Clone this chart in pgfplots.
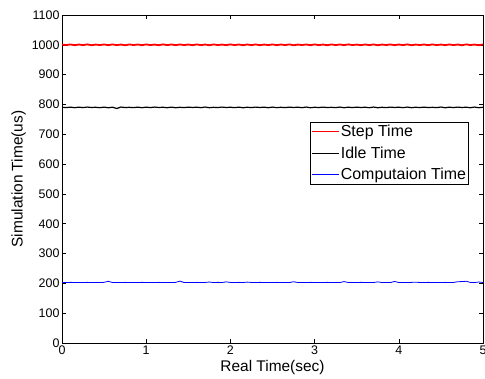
\documentclass[border=0pt]{standalone}
\usepackage{pgfplots}
\pgfplotsset{compat=1.18}
\usepackage{pgfplotstable}
\usepackage{fontspec}
\setmainfont{Liberation Sans}
\pgfplotstableread{
x s i c
0.00 1000.9 790.6 203.0
0.05 999.1 789.4 202.6
0.10 1001.2 791.0 203.4
0.15 998.8 789.2 202.8
0.20 1001.0 790.8 203.1
0.25 999.0 789.6 202.7
0.30 1001.4 791.2 203.3
0.35 998.7 789.9 202.9
0.40 1000.8 790.5 203.2
0.45 999.3 789.2 202.6
0.50 1001.1 791.1 203.5
0.55 998.9 789.0 207.0
0.60 1001.3 790.7 202.8
0.65 999.0 786.5 203.2
0.70 1000.9 791.3 202.7
0.75 998.6 789.7 203.3
0.80 1001.2 790.4 202.9
0.85 999.2 789.3 203.1
0.90 1001.0 791.0 202.6
0.95 998.8 789.1 203.4
1.00 1001.3 790.9 202.8
1.05 999.1 789.5 203.2
1.10 1000.8 791.2 202.7
1.15 998.7 789.8 203.3
1.20 1001.4 790.6 202.9
1.25 999.0 789.1 203.0
1.30 1001.1 791.1 202.6
1.35 998.9 789.0 203.4
1.40 1001.2 790.5 207.5
1.45 999.2 789.4 202.8
1.50 1000.9 791.0 203.2
1.55 998.8 789.9 202.7
1.60 1001.3 790.8 203.3
1.65 999.0 789.2 202.9
1.70 1001.0 791.3 203.1
1.75 998.6 789.1 204.5
1.80 1001.2 790.4 202.6
1.85 999.3 789.6 203.4
1.90 1000.8 791.2 202.8
1.95 998.9 789.7 205.0
2.00 1001.4 790.7 203.2
2.05 999.1 789.3 202.7
2.10 1001.0 791.0 203.3
2.15 998.7 789.0 202.9
2.20 1001.1 790.6 204.2
2.25 999.0 789.5 203.0
2.30 1001.3 791.1 202.6
2.35 998.8 789.8 203.4
2.40 1000.9 790.9 202.8
2.45 999.2 789.1 203.2
2.50 1001.2 791.2 202.7
2.55 998.9 789.2 203.3
2.60 1001.0 790.5 202.9
2.65 999.1 789.4 203.1
2.70 1001.4 791.0 202.6
2.75 998.6 789.9 205.5
2.80 1000.8 790.8 202.8
2.85 999.3 789.2 203.2
2.90 1001.1 791.3 202.7
2.95 998.8 789.0 203.3
3.00 1001.3 790.6 202.9
3.05 999.0 789.6 203.0
3.10 1000.9 791.1 202.6
3.15 998.7 789.7 203.4
3.20 1001.2 790.4 202.8
3.25 999.2 789.3 203.2
3.30 1001.0 791.2 202.7
3.35 998.9 789.1 206.0
3.40 1001.4 790.9 202.9
3.45 999.1 789.5 203.1
3.50 1000.8 791.0 202.6
3.55 998.8 789.8 203.4
3.60 1001.1 790.7 202.8
3.65 999.0 789.1 203.2
3.70 1001.3 791.3 202.7
3.75 998.6 789.0 205.0
3.80 1000.9 790.5 202.9
3.85 999.3 789.4 203.1
3.90 1001.2 791.1 202.6
3.95 998.9 789.9 206.5
4.00 1001.0 790.8 202.8
4.05 999.1 789.2 203.2
4.10 1001.4 791.2 202.7
4.15 998.7 789.1 203.3
4.20 1000.8 790.6 204.0
4.25 999.2 789.6 203.0
4.30 1001.1 791.0 202.6
4.35 998.8 789.7 203.4
4.40 1001.3 790.4 202.8
4.45 999.0 789.3 203.2
4.50 1000.9 791.3 202.7
4.55 998.9 789.0 203.3
4.60 1001.2 790.9 202.9
4.65 999.1 789.5 203.1
4.70 1001.0 791.1 205.5
4.75 998.6 789.8 206.0
4.80 1001.4 790.7 207.0
4.85 999.3 789.1 203.2
4.90 1000.8 791.2 202.7
4.95 998.8 789.1 204.5
5.00 1001.1 790.5 203.0
}\datatable
\begin{document}
\begin{tikzpicture}[x=1bp,y=1bp]
\begin{axis}[
  scale only axis,
  width=421bp, height=328bp,
  xmin=0, xmax=5, ymin=0, ymax=1100,
  xtick={0,1,2,3,4,5},
  ytick={0,100,200,300,400,500,600,700,800,900,1000,1100},
  tick align=inside,
  major tick length=4bp,
  tick style={black, line width=0.5pt},
  axis line style={black, line width=0.8pt},
  /pgf/number format/assume math mode=true,
  /pgf/number format/1000 sep={},
  ticklabel style={font=\fontsize{12.5}{14}\selectfont},
  xticklabel style={yshift=1bp},
  yticklabel style={xshift=1bp},
  label style={font=\fontsize{15.5}{17}\selectfont},
  xlabel={Real Time(sec)},
  ylabel={Simulation Time(us)},
  xlabel style={yshift=1bp},
  ylabel style={yshift=-1bp},
  legend cell align=left,
  legend style={at={(0.965,0.674)}, anchor=north east,
    font=\fontsize{16}{18}\selectfont,
    inner xsep=1bp, inner ysep=2bp,
    nodes={inner sep=1bp, text depth=0.15em},
    row sep=6.5bp, column sep=0bp},
  legend image code/.code={\draw[#1, line width=1.2pt] plot coordinates {(0bp,0bp) (27bp,0bp)};},
  clip=true,
]
\addplot[color=red, draw=red, line width=1.8pt] table[x=x,y=s] {\datatable};
\addlegendentry{Step Time}
\addplot[color=black, draw=black, line width=1.2pt] table[x=x,y=i] {\datatable};
\addlegendentry{Idle Time}
\addplot[color=blue, draw=blue, line width=0.8pt] table[x=x,y=c] {\datatable};
\addlegendentry{Computaion Time}
\end{axis}
\pgfresetboundingbox
\path (-62bp,-36bp) rectangle (423bp,343bp);
\end{tikzpicture}
\end{document}
